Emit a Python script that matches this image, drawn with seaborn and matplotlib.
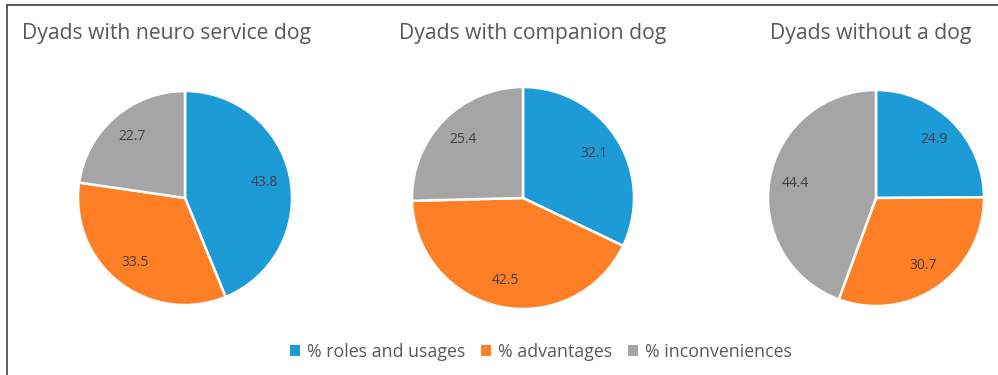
import matplotlib
matplotlib.use("Agg")
import matplotlib.pyplot as plt
import seaborn as sns
from matplotlib.lines import Line2D
from matplotlib.patches import Patch

sns.set_theme(style="white")
plt.rcParams['font.family'] = ['Open Sans', 'DejaVu Sans']

groups = ["Dyads with neuro service dog", "Dyads with companion dog", "Dyads without a dog"]
categories = ["% roles and usages", "% advantages", "% inconveniences"]
roles = [43.8, 32.1, 24.9]
advantages = [33.5, 42.5, 30.7]
inconveniences = [22.7, 25.4, 44.4]
colors = ["#1D9BD7", "#FE7F25", "#A5A5A5"]

W, H = 998, 375
fig = plt.figure(figsize=(W / 100, H / 100), dpi=100)

centers = [(185, 198, 107), (523, 198, 111), (876, 198, 108)]
title_x = [167, 533, 871]

for i, (cx, cy, r) in enumerate(centers):
    ax = fig.add_axes([(cx - r) / W, (H - cy - r) / H, 2 * r / W, 2 * r / H])
    vals = [roles[i], advantages[i], inconveniences[i]]
    wedges, texts = ax.pie(vals, colors=colors, startangle=90, counterclock=False,
                           labels=[f"{v:.1f}" for v in vals], labeldistance=0.76,
                           wedgeprops=dict(edgecolor="white", linewidth=1.8),
                           textprops=dict(color="#404040", fontsize=10))
    for t in texts:
        t.set_ha("center")
        t.set_va("center")
    ax.set_xlim(-1, 1)
    ax.set_ylim(-1, 1)
    ax.set_aspect("equal")
    ax.axis("off")
    fig.text(title_x[i] / W, 1 - 34 / H, groups[i], ha="center", va="center",
             fontsize=15.2, color="#595959")

handles = [Patch(facecolor=c, edgecolor="none") for c in colors]
fig.legend(handles, categories, loc="center", bbox_to_anchor=(541 / W, 1 - 352 / H),
           ncol=3, frameon=False, fontsize=12.8, labelcolor="#595959",
           handlelength=0.55, handleheight=0.55, handletextpad=0.4, columnspacing=0.9)

# border of chart area
fig.add_artist(Line2D([7 / W, 7 / W], [0, 1 - 5 / H], color="#404040", lw=1.2))
fig.add_artist(Line2D([7 / W, 1], [1 - 5 / H, 1 - 5 / H], color="#404040", lw=1.2))

fig.savefig("out.png", dpi=100)
